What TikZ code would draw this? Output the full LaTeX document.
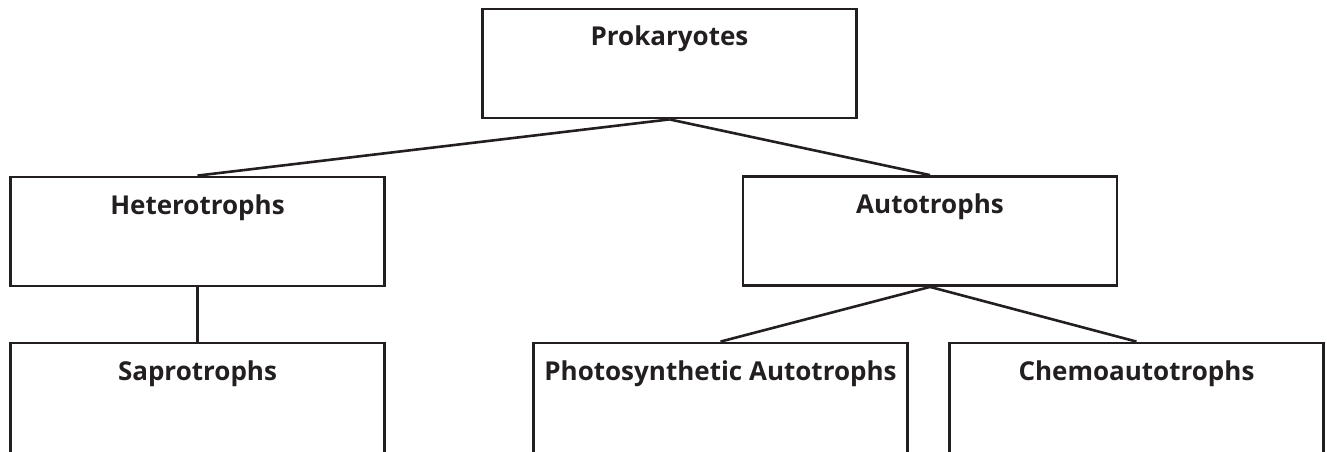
\documentclass[tikz,border=0pt]{standalone}
\usepackage{fontspec}
\setmainfont{Open Sans}
\definecolor{ink}{HTML}{231F20}

\begin{document}
\begin{tikzpicture}[x=1pt, y=-1pt,
    taxon/.style={draw=ink, line width=2.8pt, text=ink, font=\fontsize{26}{30}\selectfont\bfseries,
      minimum width=374pt, inner xsep=0pt, inner ysep=0pt, text height=37pt, text depth=72pt},
    branch/.style={draw=ink, line width=2.6pt}]
\useasboundingbox (0,0) rectangle (1327,452);
\clip (0,0) rectangle (1327,452);

\node[taxon] (prok) at (669.5,63.5) {Prokaryotes};

\node[taxon] (hetero) at (197.5,231.5) {Heterotrophs};
\node[taxon] (auto) at (930,231) {Autotrophs};

% bottom row runs off the lower edge
\node[taxon, text depth=90pt] (sapro) at (197.5,406.5) {Saprotrophs};
\node[taxon, text depth=90pt] (photo) at (720.5,406.5) {Photosynthetic Autotrophs};
\node[taxon, text depth=90pt] (chemo) at (1136.5,406.5) {Chemoautotrophs};

\draw[branch] (prok.south) -- (hetero.north);
\draw[branch] (prok.south) -- (auto.north);
\draw[branch] (hetero.south) -- (sapro.north);
\draw[branch] (auto.south) -- (photo.north);
\draw[branch] (auto.south) -- (chemo.north);
\end{tikzpicture}
\end{document}
